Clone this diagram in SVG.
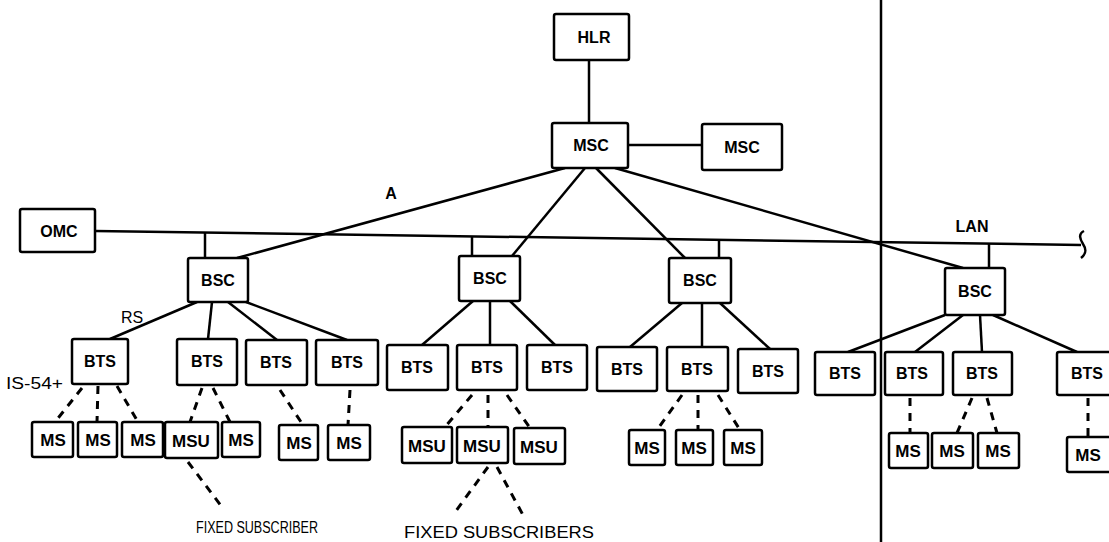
<svg xmlns="http://www.w3.org/2000/svg" width="1109" height="542" viewBox="0 0 1109 542">
<style>
.box{fill:#fff;stroke:#000;stroke-width:2.5}
.lbl{font-family:"Liberation Sans",Arial,sans-serif;font-weight:bold;font-size:16px;text-anchor:middle;fill:#000}
.ms{font-family:"Liberation Sans",Arial,sans-serif;font-weight:bold;font-size:17px;text-anchor:middle;fill:#000}
.txt{font-family:"Liberation Sans",Arial,sans-serif;font-size:16px;fill:#000}
.ln{stroke:#000;stroke-width:2.5;fill:none}
.dash{stroke:#000;stroke-width:3;stroke-dasharray:8 7;fill:none}
</style>
<rect width="1109" height="542" fill="#fff"/>
<g id="connectors">
<line class="ln" x1="589" y1="60" x2="589" y2="123"/>
<line class="ln" x1="628" y1="145" x2="702" y2="145"/>
<line class="ln" x1="565" y1="168" x2="237" y2="258"/>
<line class="ln" x1="585" y1="168" x2="512" y2="256"/>
<line class="ln" x1="596" y1="168" x2="685" y2="258"/>
<line class="ln" x1="615" y1="168" x2="963" y2="268"/>
<line class="ln" x1="95" y1="231" x2="1081" y2="245"/>
<path class="ln" d="M1084,231 C1078,234 1080,239 1083,244 C1087,250 1086,254 1081,258"/>
<line class="ln" x1="881" y1="0" x2="881" y2="542"/>
<line class="ln" x1="205" y1="232" x2="205" y2="258"/>
<line class="ln" x1="472" y1="236" x2="472" y2="256"/>
<line class="ln" x1="719" y1="240" x2="719" y2="258"/>
<line class="ln" x1="989" y1="244" x2="989" y2="268"/>
<line class="ln" x1="197" y1="302" x2="110" y2="339"/>
<line class="ln" x1="212" y1="302" x2="208" y2="339"/>
<line class="ln" x1="228" y1="302" x2="277" y2="340"/>
<line class="ln" x1="246" y1="302" x2="347" y2="340"/>
<line class="ln" x1="473" y1="301" x2="422" y2="345"/>
<line class="ln" x1="490" y1="301" x2="490" y2="345"/>
<line class="ln" x1="510" y1="301" x2="555" y2="345"/>
<line class="ln" x1="682" y1="303" x2="630" y2="347"/>
<line class="ln" x1="702" y1="303" x2="702" y2="347"/>
<line class="ln" x1="720" y1="303" x2="770" y2="349"/>
<line class="ln" x1="945" y1="315" x2="848" y2="352"/>
<line class="ln" x1="963" y1="315" x2="915" y2="352"/>
<line class="ln" x1="980" y1="315" x2="982" y2="352"/>
<line class="ln" x1="993" y1="315" x2="1077" y2="352"/>
<line class="dash" x1="82" y1="388" x2="55" y2="422"/>
<line class="dash" x1="98" y1="386" x2="97" y2="422"/>
<line class="dash" x1="117" y1="386" x2="138" y2="422"/>
<line class="dash" x1="202" y1="388" x2="190" y2="422"/>
<line class="dash" x1="213" y1="388" x2="230" y2="422"/>
<line class="dash" x1="280" y1="390" x2="303" y2="425"/>
<line class="dash" x1="350" y1="390" x2="348" y2="425"/>
<line class="dash" x1="188" y1="462" x2="222" y2="507"/>
<line class="dash" x1="472" y1="395" x2="445" y2="427"/>
<line class="dash" x1="488" y1="395" x2="488" y2="427"/>
<line class="dash" x1="507" y1="395" x2="530" y2="428"/>
<line class="dash" x1="488" y1="467" x2="453" y2="515"/>
<line class="dash" x1="497" y1="467" x2="523" y2="515"/>
<line class="dash" x1="682" y1="395" x2="657" y2="430"/>
<line class="dash" x1="698" y1="395" x2="698" y2="430"/>
<line class="dash" x1="718" y1="395" x2="740" y2="430"/>
<line class="dash" x1="910" y1="398" x2="910" y2="433"/>
<line class="dash" x1="972" y1="398" x2="957" y2="433"/>
<line class="dash" x1="987" y1="398" x2="997" y2="433"/>
<line class="dash" x1="1088" y1="398" x2="1088" y2="437"/>
</g>
<g id="labels">
<text class="lbl" x="391" y="199">A</text>
<text class="lbl" x="972" y="232">LAN</text>
<text class="txt" x="121" y="323">RS</text>
<text class="txt" x="6" y="389" textLength="57" lengthAdjust="spacingAndGlyphs">IS-54+</text>
<text class="txt" x="196" y="533" textLength="122" lengthAdjust="spacingAndGlyphs">FIXED SUBSCRIBER</text>
<text class="txt" x="404" y="538" textLength="190" lengthAdjust="spacingAndGlyphs">FIXED SUBSCRIBERS</text>
</g>
<g id="hlr"><rect class="box" x="554" y="14" width="75" height="46" rx="2"/><text class="lbl" x="594" y="43">HLR</text></g>
<g id="msc"><rect class="box" x="552" y="123" width="76" height="45" rx="2"/><text class="lbl" x="591" y="151">MSC</text></g>
<g id="msc2"><rect class="box" x="702" y="124" width="80" height="46" rx="2"/><text class="lbl" x="742" y="153">MSC</text></g>
<g id="omc"><rect class="box" x="20" y="209" width="75" height="43" rx="2"/><text class="lbl" x="59" y="237">OMC</text></g>
<g id="bsc1"><rect class="box" x="188" y="258" width="60" height="44" rx="2"/><text class="lbl" x="218" y="286">BSC</text></g>
<g id="bsc2"><rect class="box" x="459" y="256" width="61" height="45" rx="2"/><text class="lbl" x="490" y="284">BSC</text></g>
<g id="bsc3"><rect class="box" x="669" y="258" width="62" height="45" rx="2"/><text class="lbl" x="700" y="286">BSC</text></g>
<g id="bsc4"><rect class="box" x="945" y="268" width="60" height="47" rx="2"/><text class="lbl" x="975" y="297">BSC</text></g>
<g id="bts1"><rect class="box" x="72" y="339" width="56" height="45" rx="2"/><text class="lbl" x="100" y="367">BTS</text></g>
<g id="bts2"><rect class="box" x="177" y="339" width="60" height="46" rx="2"/><text class="lbl" x="207" y="367">BTS</text></g>
<g id="bts3"><rect class="box" x="246" y="340" width="61" height="45" rx="2"/><text class="lbl" x="276" y="368">BTS</text></g>
<g id="bts4"><rect class="box" x="316" y="340" width="62" height="45" rx="2"/><text class="lbl" x="347" y="368">BTS</text></g>
<g id="bts5"><rect class="box" x="387" y="345" width="61" height="45" rx="2"/><text class="lbl" x="417" y="373">BTS</text></g>
<g id="bts6"><rect class="box" x="457" y="345" width="60" height="45" rx="2"/><text class="lbl" x="487" y="373">BTS</text></g>
<g id="bts7"><rect class="box" x="527" y="345" width="60" height="45" rx="2"/><text class="lbl" x="557" y="373">BTS</text></g>
<g id="bts8"><rect class="box" x="597" y="347" width="60" height="44" rx="2"/><text class="lbl" x="627" y="375">BTS</text></g>
<g id="bts9"><rect class="box" x="667" y="347" width="61" height="44" rx="2"/><text class="lbl" x="697" y="375">BTS</text></g>
<g id="bts10"><rect class="box" x="738" y="349" width="60" height="44" rx="2"/><text class="lbl" x="768" y="377">BTS</text></g>
<g id="bts11"><rect class="box" x="815" y="352" width="60" height="43" rx="2"/><text class="lbl" x="845" y="379">BTS</text></g>
<g id="bts12"><rect class="box" x="885" y="352" width="58" height="43" rx="2"/><text class="lbl" x="912" y="379">BTS</text></g>
<g id="bts13"><rect class="box" x="953" y="352" width="59" height="43" rx="2"/><text class="lbl" x="982" y="379">BTS</text></g>
<g id="bts14"><rect class="box" x="1057" y="352" width="60" height="43" rx="2"/><text class="lbl" x="1087" y="379">BTS</text></g>
<g id="ms1"><rect class="box" x="32" y="422" width="41" height="35" rx="2"/><text class="ms" x="53" y="446">MS</text></g>
<g id="ms2"><rect class="box" x="78" y="422" width="39" height="35" rx="2"/><text class="ms" x="98" y="446">MS</text></g>
<g id="ms3"><rect class="box" x="122" y="422" width="41" height="35" rx="2"/><text class="ms" x="143" y="446">MS</text></g>
<g id="msu1"><rect class="box" x="165" y="422" width="53" height="36" rx="2"/><text class="ms" x="191" y="447">MSU</text></g>
<g id="ms4"><rect class="box" x="222" y="422" width="38" height="35" rx="2"/><text class="ms" x="241" y="446">MS</text></g>
<g id="ms5"><rect class="box" x="279" y="425" width="39" height="35" rx="2"/><text class="ms" x="299" y="449">MS</text></g>
<g id="ms6"><rect class="box" x="328" y="425" width="42" height="35" rx="2"/><text class="ms" x="349" y="449">MS</text></g>
<g id="msu2"><rect class="box" x="402" y="427" width="50" height="36" rx="2"/><text class="ms" x="427" y="452">MSU</text></g>
<g id="msu3"><rect class="box" x="457" y="427" width="51" height="36" rx="2"/><text class="ms" x="482" y="452">MSU</text></g>
<g id="msu4"><rect class="box" x="514" y="428" width="51" height="36" rx="2"/><text class="ms" x="539" y="453">MSU</text></g>
<g id="ms7"><rect class="box" x="629" y="430" width="36" height="35" rx="2"/><text class="ms" x="647" y="454">MS</text></g>
<g id="ms8"><rect class="box" x="676" y="430" width="37" height="35" rx="2"/><text class="ms" x="694" y="454">MS</text></g>
<g id="ms9"><rect class="box" x="724" y="430" width="38" height="35" rx="2"/><text class="ms" x="743" y="454">MS</text></g>
<g id="ms10"><rect class="box" x="889" y="433" width="39" height="35" rx="2"/><text class="ms" x="908" y="457">MS</text></g>
<g id="ms11"><rect class="box" x="932" y="433" width="41" height="35" rx="2"/><text class="ms" x="952" y="457">MS</text></g>
<g id="ms12"><rect class="box" x="978" y="433" width="41" height="35" rx="2"/><text class="ms" x="998" y="457">MS</text></g>
<g id="ms13"><rect class="box" x="1067" y="437" width="45" height="35" rx="2"/><text class="ms" x="1088" y="461">MS</text></g>
</svg>
